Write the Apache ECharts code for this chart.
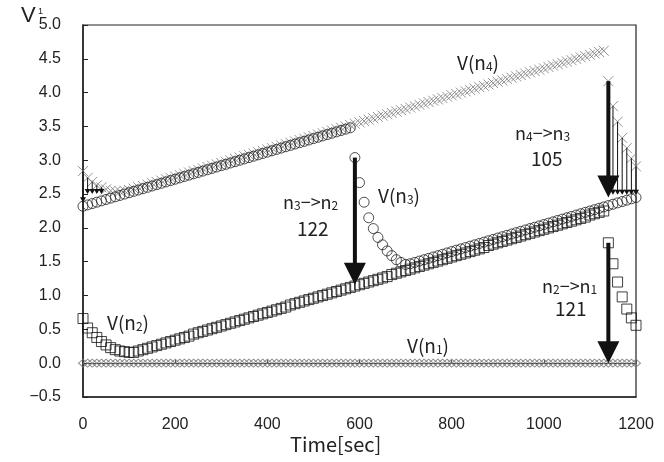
<!DOCTYPE html>
<html>
<head>
<meta charset="utf-8">
<script src="https://cdn.jsdelivr.net/npm/echarts@6/dist/echarts.min.js"></script>
<style>html,body{margin:0;padding:0;background:#fff}#c{width:664px;height:462px}</style>
</head>
<body>
<div id="c"></div>
<script>
// ---- data ----
const times = [
  0,10,20,30,40,50,60,70,80,90,
  100,110,120,130,140,150,160,170,180,190,
  200,210,220,230,240,250,260,270,280,290,
  300,310,320,330,340,350,360,370,380,390,
  400,410,420,430,440,450,460,470,480,490,
  500,510,520,530,540,550,560,570,580,590,
  600,610,620,630,640,650,660,670,680,690,
  700,710,720,730,740,750,760,770,780,790,
  800,810,820,830,840,850,860,870,880,890,
  900,910,920,930,940,950,960,970,980,990,
  1000,1010,1020,1030,1040,1050,1060,1070,1080,1090,
  1100,1110,1120,1130,1140,1150,1160,1170,1180,1190,
  1200
];
const vN1 = [
  0,0,0,0,0,0,0,0,0,0, 0,0,0,0,0,0,0,0,0,0,
  0,0,0,0,0,0,0,0,0,0, 0,0,0,0,0,0,0,0,0,0,
  0,0,0,0,0,0,0,0,0,0, 0,0,0,0,0,0,0,0,0,0,
  0,0,0,0,0,0,0,0,0,0, 0,0,0,0,0,0,0,0,0,0,
  0,0,0,0,0,0,0,0,0,0, 0,0,0,0,0,0,0,0,0,0,
  0,0,0,0,0,0,0,0,0,0, 0,0,0,0,0,0,0,0,0,0,
  0
];
const vN2 = [
  0.66,0.52,0.45,0.38,0.32,0.27,0.23,0.20,0.18,0.17,
  0.16,0.16,0.18,0.20,0.22,0.24,0.26,0.28,0.30,0.32,
  0.34,0.36,0.38,0.40,0.43,0.45,0.47,0.49,0.51,0.53,
  0.55,0.57,0.59,0.61,0.63,0.65,0.67,0.69,0.71,0.73,
  0.75,0.77,0.79,0.81,0.83,0.86,0.88,0.90,0.92,0.94,
  0.96,0.98,1.00,1.02,1.04,1.06,1.08,1.10,1.12,1.14,
  1.16,1.18,1.20,1.22,1.24,1.26,1.28,1.31,1.33,1.35,
  1.37,1.39,1.41,1.43,1.45,1.47,1.49,1.51,1.53,1.55,
  1.57,1.59,1.61,1.63,1.65,1.67,1.69,1.71,1.74,1.76,
  1.78,1.80,1.82,1.84,1.86,1.88,1.90,1.92,1.94,1.96,
  1.98,2.00,2.02,2.04,2.06,2.08,2.10,2.12,2.14,2.16,
  2.19,2.21,2.23,2.25,1.78,1.47,1.20,0.98,0.80,0.67,
  0.56
];
const vN3 = [
  2.32,2.34,2.36,2.38,2.40,2.42,2.44,2.46,2.48,2.50,
  2.52,2.54,2.56,2.58,2.60,2.62,2.64,2.66,2.68,2.70,
  2.72,2.74,2.76,2.78,2.80,2.82,2.84,2.86,2.88,2.90,
  2.92,2.94,2.96,2.98,3.00,3.02,3.04,3.06,3.08,3.10,
  3.12,3.14,3.16,3.18,3.20,3.22,3.24,3.26,3.28,3.30,
  3.32,3.34,3.36,3.38,3.40,3.42,3.44,3.46,3.48,3.04,
  2.67,2.38,2.15,1.99,1.86,1.75,1.66,1.59,1.53,1.49,
  1.46,1.47,1.49,1.51,1.53,1.55,1.57,1.59,1.61,1.63,
  1.65,1.67,1.69,1.71,1.73,1.75,1.77,1.79,1.81,1.83,
  1.85,1.87,1.89,1.91,1.93,1.95,1.97,1.99,2.01,2.03,
  2.05,2.07,2.09,2.11,2.13,2.15,2.17,2.19,2.21,2.23,
  2.25,2.27,2.29,2.31,2.33,2.35,2.37,2.39,2.41,2.43,
  2.45
];
const vN4 = [
  2.84,2.74,2.68,2.63,2.60,2.57,2.55,2.54,2.54,2.55,
  2.56,2.58,2.60,2.62,2.64,2.66,2.68,2.70,2.72,2.74,
  2.76,2.78,2.80,2.82,2.84,2.86,2.88,2.90,2.92,2.94,
  2.96,2.98,3.00,3.02,3.04,3.06,3.08,3.10,3.12,3.14,
  3.16,3.18,3.20,3.22,3.24,3.26,3.28,3.30,3.32,3.34,
  3.36,3.38,3.40,3.42,3.44,3.46,3.48,3.50,3.52,3.54,
  3.56,3.58,3.60,3.62,3.64,3.66,3.68,3.70,3.72,3.74,
  3.76,3.78,3.80,3.82,3.84,3.86,3.88,3.90,3.92,3.94,
  3.96,3.98,4.00,4.02,4.04,4.06,4.08,4.10,4.12,4.14,
  4.16,4.18,4.20,4.22,4.24,4.26,4.28,4.30,4.32,4.34,
  4.36,4.38,4.40,4.42,4.44,4.46,4.48,4.50,4.52,4.54,
  4.56,4.58,4.60,4.62,4.17,3.80,3.57,3.33,3.18,3.03,
  2.91
];
// transition arrows: time, start value, end value
const bigArrowT    = [590, 1140, 1140];
const bigArrowFrom = [3.04, 4.17, 1.78];
const bigArrowTo   = [1.16, 2.45, 0.00];
const thinArrowT    = [0, 10, 20, 30, 40, 1150, 1160, 1170, 1180, 1190, 1200];
const thinArrowFrom = [2.84, 2.74, 2.68, 2.63, 2.60, 3.80, 3.57, 3.33, 3.18, 3.03, 2.91];
const thinArrowTo   = [2.38, 2.50, 2.50, 2.50, 2.50, 2.49, 2.49, 2.49, 2.49, 2.49, 2.49];
const xTicks = [0, 200, 400, 600, 800, 1000, 1200];
const yTicks = [-0.5, 0.0, 0.5, 1.0, 1.5, 2.0, 2.5, 3.0, 3.5, 4.0, 4.5, 5.0];

// ---- build ----
const pairs = (xs, ys) => xs.map((x, i) => [x, ys[i]]);
const triples = (t, a, b) => t.map((x, i) => [x, a[i], b[i]]);

function arrowRenderer(sw, hw, hl, color) {
  return function (params, api) {
    const p0 = api.coord([api.value(0), api.value(1)]);
    const p1 = api.coord([api.value(0), api.value(2)]);
    const shaftEnd = p1[1] - hl + 1;
    return {
      type: 'group',
      children: [
        { type: 'rect', shape: { x: p0[0] - sw / 2, y: p0[1], width: sw, height: Math.max(0, shaftEnd - p0[1]) }, style: { fill: color } },
        { type: 'polygon', shape: { points: [[p1[0] - hw, p1[1] - hl], [p1[0] + hw, p1[1] - hl], [p1[0], p1[1]]] }, style: { fill: color } }
      ]
    };
  };
}

const CJK = '"Noto Sans CJK JP", "Noto Sans", sans-serif';
const TICKF = '"Liberation Sans", Arial, sans-serif';
const rich = { s: { fontSize: 12, fontFamily: CJK, verticalAlign: 'bottom', fill: '#222', color: '#222' } };

function txt(left, top, text, size) {
  return { type: 'text', left: left, top: top, z: 100,
    style: { text: text, rich: rich, font: (size || 18) + 'px ' + CJK, fill: '#222' } };
}

const chart = echarts.init(document.getElementById('c'), null, { renderer: 'canvas' });
chart.setOption({
  animation: false,
  backgroundColor: '#fff',
  grid: { left: 83, right: 28, top: 25, bottom: 65, show: true, borderColor: '#222', borderWidth: 1.2, backgroundColor: 'transparent' },
  xAxis: [
    { type: 'value', min: xTicks[0], max: xTicks[xTicks.length - 1], interval: 200, position: 'bottom',
      axisLine: { onZero: false, lineStyle: { color: '#222', width: 1.5 } },
      axisTick: { show: false }, splitLine: { show: false },
      axisLabel: { margin: 20, fontSize: 16, fontFamily: TICKF, color: '#222', formatter: v => String(v) } },
    { type: 'value', min: xTicks[0], max: xTicks[xTicks.length - 1], interval: 200, position: 'top',
      axisLine: { onZero: true, lineStyle: { color: '#444', width: 1 } },
      axisTick: { show: true, length: 3, lineStyle: { color: '#444' } }, splitLine: { show: false },
      axisLabel: { show: false } }
  ],
  yAxis: { type: 'value', min: yTicks[0], max: yTicks[yTicks.length - 1], interval: 0.5,
    axisLine: { onZero: false, lineStyle: { color: '#222', width: 1.5 } },
    axisTick: { show: true, inside: true, length: 5, lineStyle: { color: '#222' } },
    splitLine: { show: false },
    axisLabel: { margin: 22, fontSize: 16, fontFamily: TICKF, color: '#222',
      formatter: v => (v < 0 ? '\u2212' : '') + Math.abs(v).toFixed(1) } },
  series: [
    { name: 'V(n1)', type: 'scatter', data: pairs(times, vN1), symbol: 'diamond', symbolSize: [9, 8],
      itemStyle: { color: 'rgba(0,0,0,0)', borderColor: '#777', borderWidth: 1 }, z: 3 },
    { name: 'V(n2)', type: 'scatter', data: pairs(times, vN2), symbol: 'rect', symbolSize: 10,
      itemStyle: { color: 'rgba(0,0,0,0)', borderColor: '#111', borderWidth: 1 }, z: 4 },
    { name: 'V(n3)', type: 'scatter', data: pairs(times, vN3), symbol: 'circle', symbolSize: 10,
      itemStyle: { color: 'rgba(0,0,0,0)', borderColor: '#222', borderWidth: 1 }, z: 4 },
    { name: 'V(n4)', type: 'scatter', data: pairs(times, vN4), symbol: 'path://M0,0L10,10M10,0L0,10', symbolSize: 10,
      itemStyle: { color: 'rgba(0,0,0,0)', borderColor: '#777', borderWidth: 1 }, z: 3 },
    { type: 'custom', data: triples(thinArrowT, thinArrowFrom, thinArrowTo), renderItem: arrowRenderer(1, 3, 5, '#111'),
      encode: { x: 0, y: [1, 2] }, clip: false, z: 6 },
    { type: 'custom', data: triples(bigArrowT, bigArrowFrom, bigArrowTo), renderItem: arrowRenderer(4, 11, 22, '#111'),
      encode: { x: 0, y: [1, 2] }, clip: false, z: 7 }
  ],
  graphic: [
    txt(457, 53, 'V(n{s|4})', 19),
    txt(378, 186, 'V(n{s|3})', 19),
    txt(107, 313, 'V(n{s|2})', 19),
    txt(407, 336, 'V(n{s|1})', 19),
    txt(283, 193, 'n{s|3}\u2212>n{s|2}'),
    txt(297, 219, '122', 19),
    txt(515, 124, 'n{s|4}\u2212>n{s|3}'),
    txt(531, 149, '105', 19),
    txt(542, 277, 'n{s|2}\u2212>n{s|1}'),
    txt(555, 299, '121', 19),
    { type: 'text', left: 290, top: 434, style: { text: 'Time[sec]', font: '20px ' + CJK, fill: '#222' } },
    { type: 'text', left: 21, top: 5, style: { text: 'V', font: '22px ' + TICKF, fill: '#222' } },
    { type: 'text', left: 38, top: 7, style: { text: '1', font: '9px ' + TICKF, fill: '#222' } }
  ]
});
</script>
</body>
</html>
